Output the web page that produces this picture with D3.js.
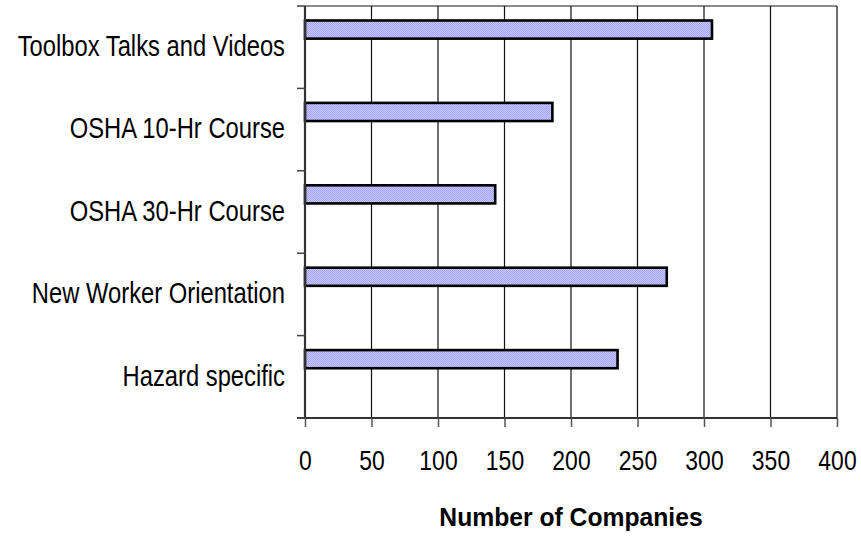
<!DOCTYPE html>
<html>
<head>
<meta charset="utf-8">
<script src="https://cdn.jsdelivr.net/npm/d3@7"></script>
<style>
  html, body { margin: 0; padding: 0; background: #fff; }
  svg { display: block; }
  .lbl { font-family: "Liberation Sans", Arial, sans-serif; fill: #000; }
</style>
</head>
<body>
<svg id="chart" width="861" height="538"></svg>
<script>
const categories = ["Toolbox Talks and Videos", "OSHA 10-Hr Course", "OSHA 30-Hr Course", "New Worker Orientation", "Hazard specific"];
const companies = [306, 186, 143, 272, 235];
const xTicks = [0, 50, 100, 150, 200, 250, 300, 350, 400];
const xTitle = "Number of Companies";

const svg = d3.select("#chart");
const pLeft = 305, pRight = 837, pTop = 6, pBottom = 418;

const x = d3.scaleLinear().domain([0, 400]).range([pLeft, pRight]);
const y = d3.scaleBand().domain(categories).range([pTop, pBottom]).paddingInner(0).paddingOuter(0);

// pattern fill
const defs = svg.append("defs");
const pat = defs.append("pattern").attr("id", "dots").attr("width", 2).attr("height", 2)
  .attr("patternUnits", "userSpaceOnUse");
pat.append("rect").attr("width", 2).attr("height", 2).attr("fill", "#c6c6ff");
pat.append("rect").attr("width", 1).attr("height", 1).attr("fill", "#a6a6f4");
pat.append("rect").attr("x", 1).attr("y", 1).attr("width", 1).attr("height", 1).attr("fill", "#a6a6f4");

// top border
svg.append("line").attr("x1", pLeft).attr("x2", pRight).attr("y1", pTop).attr("y2", pTop)
  .attr("stroke", "#8a8a8a").attr("stroke-width", 2);

// vertical gridlines
svg.append("g").selectAll("line").data(xTicks.filter(d => d > 0)).join("line")
  .attr("x1", d => x(d)).attr("x2", d => x(d))
  .attr("y1", pTop).attr("y2", pBottom)
  .attr("stroke", "#111").attr("stroke-width", 1.2);

// bars
svg.append("g").selectAll("rect").data(categories).join("rect")
  .attr("x", x(0))
  .attr("y", d => y(d) + y.bandwidth() * 0.176)
  .attr("width", (d, i) => x(companies[i]) - x(0))
  .attr("height", y.bandwidth() * 0.22)
  .attr("fill", "url(#dots)")
  .attr("stroke", "#000").attr("stroke-width", 2.6);

// x axis
const xAxis = d3.axisBottom(x).tickValues(xTicks).tickSize(9).tickSizeOuter(0).tickPadding(24);
const gx = svg.append("g").attr("transform", `translate(0,${pBottom})`).call(xAxis);
gx.select(".domain").attr("stroke", "#333").attr("stroke-width", 2)
  .attr("d", `M${pLeft - 8},0H${pRight}`);
gx.selectAll(".tick line").attr("stroke", "#555").attr("stroke-width", 1.5);
gx.selectAll(".tick text").attr("class", "lbl").attr("font-size", 27).attr("fill", "#000")
  .attr("transform", "scale(0.85,1)");

// y axis (ticks on band boundaries)
const boundaries = categories.map(c => y(c)).concat([pBottom]);
svg.append("line").attr("x1", pLeft).attr("x2", pLeft).attr("y1", pTop).attr("y2", pBottom)
  .attr("stroke", "#333").attr("stroke-width", 2.2);
svg.append("g").selectAll("line").data(boundaries).join("line")
  .attr("x1", pLeft - 8).attr("x2", pLeft)
  .attr("y1", d => d).attr("y2", d => d)
  .attr("stroke", "#444").attr("stroke-width", 1.5);

svg.append("g").selectAll("text").data(categories).join("text")
  .attr("class", "lbl")
  .attr("transform", d => `translate(285,${y(d) + y.bandwidth() / 2}) scale(0.82,1)`)
  .attr("dy", "0.3em")
  .attr("text-anchor", "end")
  .attr("font-size", 29)
  .text(d => d);

svg.append("text").attr("class", "lbl")
  .attr("transform", `translate(${(pLeft + pRight) / 2},526) scale(0.95,1)`)
  .attr("text-anchor", "middle")
  .attr("font-size", 26).attr("font-weight", "bold")
  .text(xTitle);
</script>
</body>
</html>
